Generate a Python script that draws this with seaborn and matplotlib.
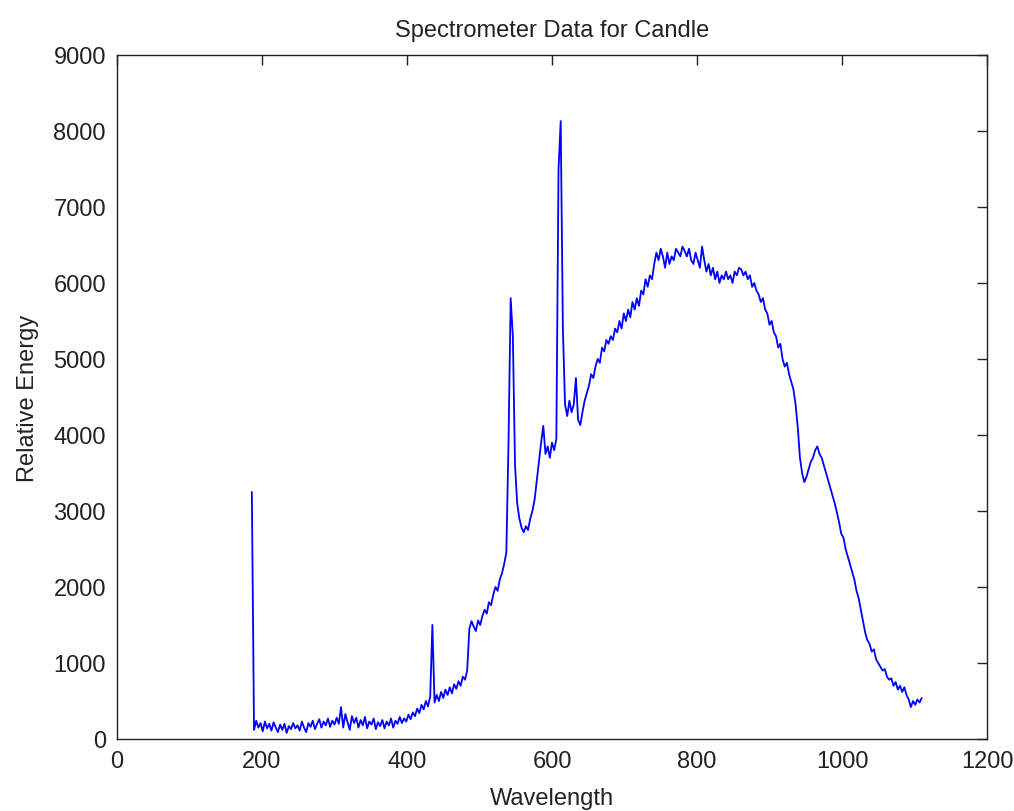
import numpy as np
import pandas as pd
import matplotlib
matplotlib.use("Agg")
import matplotlib.pyplot as plt
import seaborn as sns

energy = [
    3250, 120, 240, 150, 210, 100, 230, 140, 200, 110,      # 186-213
    220, 150, 90, 190, 120, 200, 80, 170, 130, 210,         # 216-243
    140, 180, 110, 230, 150, 90, 210, 160, 240, 130,        # 246-273
    200, 260, 150, 230, 180, 270, 160, 240, 190, 280,       # 276-303
    200, 420, 150, 330, 220, 120, 300, 210, 280, 150,       # 306-333
    250, 180, 290, 140, 230, 190, 270, 130, 220, 170,       # 336-363
    250, 140, 230, 180, 270, 150, 240, 200, 290, 210,       # 366-393
    270, 230, 320, 260, 350, 300, 400, 340, 450, 390,       # 396-423
    500, 430, 560, 1500, 480, 580, 500, 620, 540, 650,      # 426-453
    580, 680, 600, 720, 660, 760, 700, 820, 780, 900,       # 456-483
    1450, 1550, 1480, 1420, 1560, 1500, 1620, 1700, 1650, 1800,  # 486-513
    1760, 1900, 2000, 1950, 2100, 2180, 2300, 2450, 3900, 5800,  # 516-543
    5300, 3600, 3100, 2900, 2780, 2720, 2800, 2750, 2900, 3000,  # 546-573
    3150, 3400, 3650, 3900, 4120, 3750, 3850, 3700, 3900, 3800,  # 576-603
    3950, 7500, 8130, 5400, 4400, 4250, 4450, 4300, 4400, 4750,  # 606-633
    4200, 4130, 4300, 4450, 4550, 4650, 4800, 4750, 4900, 5000,  # 636-663
    4950, 5150, 5100, 5250, 5200, 5300, 5250, 5400, 5350, 5500,  # 666-693
    5400, 5600, 5500, 5650, 5550, 5750, 5650, 5800, 5700, 5900,  # 696-723
    5850, 6050, 5950, 6100, 6050, 6250, 6400, 6300, 6450, 6350,  # 726-753
    6200, 6400, 6250, 6350, 6300, 6450, 6400, 6350, 6480, 6420,  # 756-783
    6350, 6450, 6300, 6250, 6400, 6300, 6200, 6480, 6300, 6150,  # 786-813
    6250, 6100, 6200, 6050, 6150, 6000, 6100, 6050, 6150, 6050,  # 816-843
    6100, 6000, 6150, 6100, 6200, 6180, 6100, 6150, 6050, 6100,  # 846-873
    5950, 6000, 5900, 5850, 5750, 5800, 5650, 5600, 5450, 5500,  # 876-903
    5350, 5300, 5150, 5200, 5000, 4900, 4950, 4800, 4700, 4600,  # 906-933
    4400, 4100, 3700, 3500, 3380, 3450, 3550, 3650, 3700, 3800,  # 936-963
    3850, 3750, 3700, 3600, 3500, 3400, 3300, 3200, 3100, 2980,  # 966-993
    2850, 2700, 2650, 2500, 2400, 2300, 2200, 2100, 1950, 1850,  # 996-1023
    1700, 1550, 1400, 1300, 1250, 1150, 1180, 1050, 1000, 950,   # 1026-1053
    900, 920, 820, 780, 800, 700, 750, 650, 700, 620,            # 1056-1083
    680, 580, 520, 420, 500, 450, 520, 480, 540,                 # 1086-1110
]
wavelength = np.arange(186, 186 + 3 * len(energy), 3)

x_ticks = [0, 200, 400, 600, 800, 1000, 1200]
y_ticks = [0, 1000, 2000, 3000, 4000, 5000, 6000, 7000, 8000, 9000]

title = "Spectrometer Data for Candle"
x_label = "Wavelength"
y_label = "Relative Energy"

df = pd.DataFrame({"Wavelength": wavelength, "Energy": energy})

sns.set_style("white")
plt.rcParams["font.family"] = ["Liberation Sans", "DejaVu Sans"]

W, H = 1014, 812
fig = plt.figure(figsize=(W / 100, H / 100), dpi=100)
ax = fig.add_axes([117 / W, 1 - 740 / H, (987 - 117) / W, (740 - 56) / H])

sns.lineplot(data=df, x="Wavelength", y="Energy", ax=ax, color="#0000ff",
             linewidth=1.3, estimator=None, sort=False)

ax.set_xlim(0, 1200)
ax.set_ylim(0, 9000)
ax.set_xticks(x_ticks)
ax.set_yticks(y_ticks)
ax.set_xticklabels([str(t) for t in x_ticks])
ax.set_yticklabels([str(t) for t in y_ticks])
ax.tick_params(direction="in", length=7, width=1, top=True, right=True,
               labelsize=17, colors="#222222", pad=8)
for s in ax.spines.values():
    s.set_visible(True)
    s.set_color("#222222")
    s.set_linewidth(1)

ax.set_title(title, fontsize=17, color="#222222", pad=14)
ax.set_xlabel(x_label, fontsize=17, color="#222222", labelpad=11)
ax.set_ylabel(y_label, fontsize=17, color="#222222", labelpad=10)

fig.savefig("out.png", dpi=100, facecolor="white")
